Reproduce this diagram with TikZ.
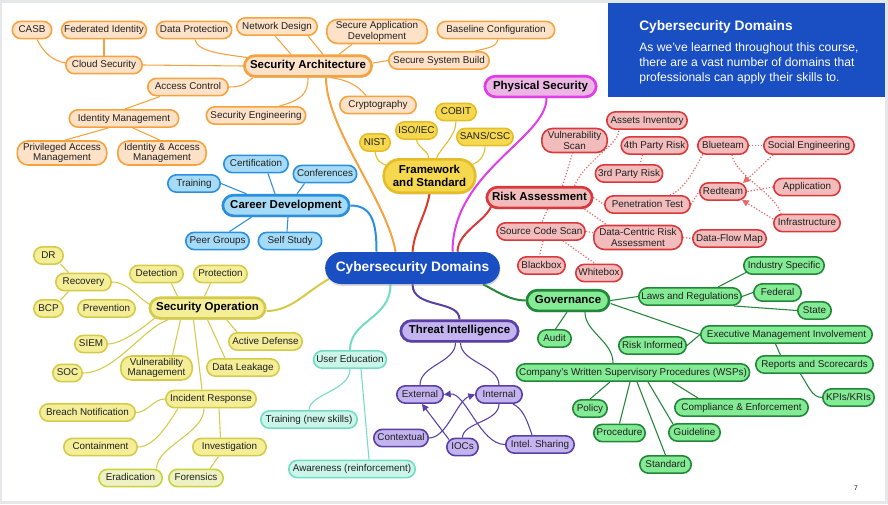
\documentclass[tikz,border=0pt]{standalone}
\usepackage{fontspec}
\setmainfont{Liberation Sans}
\usetikzlibrary{arrows.meta,calc,shadows}
\definecolor{orF}{HTML}{FDE2C8}\definecolor{orB}{HTML}{F6A23E}
\definecolor{fwF}{HTML}{F5D84E}\definecolor{fwB}{HTML}{E4BE28}
\definecolor{psF}{HTML}{EBB5E4}\definecolor{psB}{HTML}{E03DE6}
\definecolor{cdF}{HTML}{A5DBF7}\definecolor{cdB}{HTML}{2B8FE0}
\definecolor{soF}{HTML}{F4EE99}\definecolor{soB}{HTML}{D6CB48}
\definecolor{erF}{HTML}{EEF2C2}\definecolor{erB}{HTML}{C9D23A}
\definecolor{ueF}{HTML}{CCF5EA}\definecolor{ueB}{HTML}{72DCC5}
\definecolor{tiF}{HTML}{C3B3EE}\definecolor{tiB}{HTML}{5A3FA6}
\definecolor{raF}{HTML}{F2BCBC}\definecolor{raB}{HTML}{D9393B}
\definecolor{gvF}{HTML}{84EB95}\definecolor{gvB}{HTML}{23873A}
\definecolor{cdom}{HTML}{1A4FC4}
\definecolor{frameG}{HTML}{E6E7EA}
\definecolor{fwLink}{HTML}{D93A2A}
\definecolor{dotR}{HTML}{E86A6A}
\definecolor{txt}{HTML}{202020}
\pgfdeclarelayer{back}\pgfdeclarelayer{bg}\pgfsetlayers{back,bg,main}
\tikzset{
 nodebase/.style={rounded corners=6.5pt, minimum height=13pt, inner xsep=2pt, inner ysep=1pt, font=\fontsize{7.4}{7.8}\selectfont, text=txt, line width=1.2pt, text height=5.3pt, text depth=1.5pt},
 bw/.style={minimum width=#1*0.75pt-1.2pt},
 twoline/.style={minimum height=18pt, rounded corners=8pt, align=center, text height={}, text depth={}},
 mainbase/.style={rounded corners=8pt, minimum height=15.5pt, inner xsep=3pt, line width=2pt, font=\bfseries\fontsize{8.6}{9.8}\selectfont, text=black, text height=6.2pt, text depth=1.8pt, drop shadow={opacity=0.3,shadow xshift=0.4pt,shadow yshift=-1.2pt}},
 orn/.style={nodebase, draw=orB, fill=orF},
 orm/.style={mainbase, draw=orB, fill=orF},
 fwn/.style={nodebase, draw=fwB, fill=fwF},
 fwm/.style={mainbase, draw=fwB, fill=fwF, minimum height=25pt, rounded corners=12pt, align=center, text height={}, text depth={}},
 psm/.style={mainbase, draw=psB, fill=psF},
 cdn/.style={nodebase, draw=cdB, fill=cdF},
 cdm/.style={mainbase, draw=cdB, fill=cdF},
 son/.style={nodebase, draw=soB, fill=soF},
 som/.style={mainbase, draw=soB, fill=soF},
 ern/.style={nodebase, draw=erB, fill=erF},
 uen/.style={nodebase, draw=ueB, fill=ueF},
 tin/.style={nodebase, draw=tiB, fill=tiF},
 tim/.style={mainbase, draw=tiB, fill=tiF},
 ran/.style={nodebase, draw=raB, fill=raF},
 ram/.style={mainbase, draw=raB, fill=raF},
 gvn/.style={nodebase, draw=gvB, fill=gvF},
 gvm/.style={mainbase, draw=gvB, fill=gvF},
 cen/.style={rounded corners=12pt, minimum width=131pt, minimum height=24pt, fill=cdom, text=white, font=\bfseries\fontsize{10.3}{12}\selectfont, text height=7.4pt, text depth=2.1pt, drop shadow={opacity=0.3,shadow xshift=0.4pt,shadow yshift=-1.4pt}},
 lk/.style={line width=0.8pt},
 hub/.style={line width=1.5pt},
 dotl/.style={draw=dotR, line width=0.9pt, dash pattern=on 0.9pt off 1.4pt},
 arrowend/.style={-{Triangle[length=5pt,width=5pt]}},
 bodytxt/.style={anchor=base west, inner sep=0pt, text=white, font=\fontsize{9.1}{11}\selectfont}
}
\begin{document}
\begin{tikzpicture}[x=0.75pt,y=-0.75pt]
\useasboundingbox (0,0) rectangle (888,504);
\begin{pgfonlayer}{back}
\fill[frameG] (0,0) rectangle (888,504);
\fill[white] (2,3) rectangle (885,501);
\fill[cdom] (608,3) rectangle (885,97);
\end{pgfonlayer}

% title text
\node[anchor=base west, inner sep=0pt, text=white, font=\bfseries\fontsize{10.3}{12}\selectfont] (ttl) at (639,30) {Cybersecurity Domains};
\node[bodytxt] (tb1) at (639,51) {As we’ve learned throughout this course,};
\node[bodytxt] (tb2) at (639,66) {there are a vast number of domains that};
\node[bodytxt] (tb3) at (639,81) {professionals can apply their skills to.};
\node[font=\fontsize{5}{6}\selectfont, inner sep=0pt] (pnum) at (856,488) {7};

% center
\node[cen] (center) at (412.5,268) {Cybersecurity Domains};

% Security Architecture
\node[orm, bw=129] (sa) at (308,66) {Security Architecture};
\node[orn, bw=41] (casb) at (32,30) {CASB};
\node[orn, bw=86] (fedid) at (104,30) {Federated Identity};
\node[orn, bw=77] (dataprot) at (194,30) {Data Protection};
\node[orn, bw=82] (netdes) at (277,26.5) {Network Design};
\node[orn, twoline, bw=102] (secapp) at (377,31.5) {Secure Application\\Development};
\node[orn, bw=119] (baseline) at (496,30) {Baseline Configuration};
\node[orn, bw=78] (cloud) at (104,65) {Cloud Security};
\node[orn, bw=102] (ssb) at (439,60.5) {Secure System Build};
\node[orn, bw=82] (access) at (188,87) {Access Control};
\node[orn, bw=78] (crypto) at (378,105) {Cryptography};
\node[orn, bw=111] (idm) at (124,118.5) {Identity Management};
\node[orn, bw=101] (seceng) at (256,115.5) {Security Engineering};
\node[orn, twoline, bw=91] (pam) at (62,153) {Privileged Access\\Management};
\node[orn, twoline, bw=90] (iam) at (162,153) {Identity \& Access\\Management};

% Career Development
\node[cdm, bw=128] (career) at (286,205.5) {Career Development};
\node[cdn, bw=66] (cert) at (256,164) {Certification};
\node[cdn, bw=65] (conf) at (325,174) {Conferences};
\node[cdn, bw=54] (train) at (194,183.5) {Training};
\node[cdn, bw=65] (peer) at (217.5,241) {Peer Groups};
\node[cdn, bw=65] (self) at (290,241) {Self Study};

% Framework
\node[fwm, bw=93] (fw) at (429.5,176) {Framework\\and Standard};
\node[fwn, bw=32] (nist) at (375,142.5) {NIST};
\node[fwn, bw=41] (iso) at (416.5,130.5) {ISO/IEC};
\node[fwn, bw=42] (cobit) at (456,112) {COBIT};
\node[fwn, bw=58] (sans) at (485,137) {SANS/CSC};

% Physical Security
\node[psm, bw=113] (ps) at (540.5,86.5) {Physical Security};

% Security Operation
\node[som, bw=117] (so) at (207.5,308) {Security Operation};
\node[son, bw=31] (dr) at (48.5,255.5) {DR};
\node[son, bw=57] (recovery) at (83.5,282) {Recovery};
\node[son, bw=31] (bcp) at (48.5,308.5) {BCP};
\node[son, bw=59] (prevention) at (106.5,308.5) {Prevention};
\node[son, bw=55] (detection) at (156.5,274) {Detection};
\node[son, bw=55] (protection) at (220.5,274) {Protection};
\node[son, bw=34] (siem) at (91,344) {SIEM};
\node[son, bw=31] (soc) at (67.5,373) {SOC};
\node[son, twoline, bw=73] (vm) at (156.5,368) {Vulnerability\\Management};
\node[son, bw=75] (ad) at (265.5,341.5) {Active Defense};
\node[son, bw=74] (dl) at (243,367.5) {Data Leakage};
\node[son, bw=92] (ir) at (211,399) {Incident Response};
\node[son, bw=97] (breach) at (87.5,412.5) {Breach Notification};
\node[son, bw=75] (contain) at (100.5,447) {Containment};
\node[son, bw=75] (invest) at (229.5,447) {Investigation};
\node[ern, bw=65] (erad) at (130.5,478) {Eradication};
\node[ern, bw=56] (foren) at (196,478) {Forensics};

% User Education
\node[uen, bw=74] (ue) at (350,359.5) {User Education};
\node[uen, bw=98] (tns) at (309,419.5) {Training (new skills)};
\node[uen, bw=128] (awr) at (352,469) {Awareness (reinforcement)};

% Threat Intelligence
\node[tim, bw=119] (ti) at (459.5,331) {Threat Intelligence};
\node[tin, bw=48] (ext) at (420,394.5) {External};
\node[tin, bw=48] (int) at (499,394.5) {Internal};
\node[tin, bw=56] (ctx) at (401,438) {Contextual};
\node[tin, bw=33] (iocs) at (462.5,447) {IOCs};
\node[tin, bw=70] (intel) at (540,444.5) {Intel.\ Sharing};

% Risk Assessment
\node[ram, bw=107] (ra) at (539.5,197.5) {Risk Assessment};
\node[ran, twoline, bw=67] (vs) at (574.5,140.5) {Vulnerability\\Scan};
\node[ran, bw=82] (ai) at (647,120.5) {Assets Inventory};
\node[ran, bw=67] (p4) at (654.5,145.5) {4th Party Risk};
\node[ran, bw=68] (p3) at (629,173.5) {3rd Party Risk};
\node[ran, bw=87] (pt) at (647.5,204.5) {Penetration Test};
\node[ran, bw=86] (scs) at (541,231.5) {Source Code Scan};
\node[ran, twoline, bw=90] (dcra) at (638,237.5) {Data-Centric Risk\\Assessment};
\node[ran, bw=75] (dfm) at (729.5,238.5) {Data-Flow Map};
\node[ran, bw=49] (bb) at (541.5,265.5) {Blackbox};
\node[ran, bw=48] (wb) at (599,273) {Whitebox};
\node[ran, bw=52] (blue) at (723,145.5) {Blueteam};
\node[ran, bw=92] (se) at (809,145.5) {Social Engineering};
\node[ran, bw=48] (rt) at (723,191.5) {Redteam};
\node[ran, bw=68] (app) at (807,187) {Application};
\node[ran, bw=68] (infra) at (807,223) {Infrastructure};

% Governance
\node[gvm, bw=84] (gov) at (568,300.5) {Governance};
\node[gvn, bw=102] (laws) at (690,296.5) {Laws and Regulations};
\node[gvn, bw=82] (ind) at (784,265.5) {Industry Specific};
\node[gvn, bw=49] (fed) at (777.5,292.5) {Federal};
\node[gvn, bw=35] (state) at (814.5,310.5) {State};
\node[gvn, bw=35] (audit) at (554.5,338.5) {Audit};
\node[gvn, bw=173] (emi) at (786.5,334.5) {Executive Management Involvement};
\node[gvn, bw=69] (ri) at (652.5,345.5) {Risk Informed};
\node[gvn, bw=119] (rs) at (814.5,364.5) {Reports and Scorecards};
\node[gvn, bw=53] (kpi) at (848.5,397.5) {KPIs/KRIs};
\node[gvn, bw=232] (wsp) at (633,372.5) {Company’s Written Supervisory Procedures (WSPs)};
\node[gvn, bw=36] (policy) at (590,408.5) {Policy};
\node[gvn, bw=53] (proc) at (619.5,433) {Procedure};
\node[gvn, bw=135] (ce) at (741.5,407.5) {Compliance \& Enforcement};
\node[gvn, bw=53] (guide) at (694.5,432.5) {Guideline};
\node[gvn, bw=53] (std) at (665.5,464.5) {Standard};

\begin{pgfonlayer}{bg}
% orange
\draw[lk,orB] ($(casb.south)+(5,0)$) .. controls +(6,12) and +(-14,-2) .. ($(cloud.west)+(1,-2)$);
\draw[lk,orB] (fedid.south) -- (cloud.north);
\draw[lk,orB] (cloud.east) -- (sa.west);
\draw[lk,orB] ($(dataprot.south)+(1,0)$) .. controls +(2,12) and +(-30,-4) .. ($(sa.west)+(8,-8)$);
\draw[lk,orB] ($(netdes.south)+(-2,0)$) -- ($(sa.north)+(-17,0)$);
\draw[lk,orB] ($(netdes.south east)+(-10,0)$) -- ($(sa.north)+(15,0)$);
\draw[lk,orB] ($(secapp.south west)+(26,0)$) -- ($(sa.north east)+(-34,0)$);
\draw[lk,orB] (ssb.west) -- ($(sa.east)+(0,-3)$);
\draw[lk,orB] ($(baseline.south)+(2,0)$) .. controls +(-2,8) and +(12,-3) .. ($(ssb.north east)+(-15,0)$);
\draw[lk,orB] (access.east) .. controls +(14,0) and +(-8,6) .. ($(sa.south west)+(10,0)$);
\draw[lk,orB] ($(seceng.north east)+(-27,0)$) .. controls +(22,-6) and +(0,16) .. (sa.south);
\draw[lk,orB] ($(crypto.north)+(-12,0)$) .. controls +(-10,-12) and +(14,2) .. ($(sa.south east)+(-42,0)$);
\draw[lk,orB] ($(access.south west)+(13,0)$) -- ($(idm.north)+(1,0)$);
\draw[lk,orB] ($(idm.south)+(-16,0)$) -- ($(pam.north)+(3,0)$);
\draw[lk,orB] ($(idm.south)+(9,0)$) -- ($(iam.north)+(-2,0)$);
\draw[hub,orB] ($(sa.south)+(18,0)$) .. controls +(0,50) and +(-8,-50) .. ($(center.north)+(-17,0)$);
% blue
\draw[lk,cdB] ($(cert.south)+(12,0)$) -- ($(career.north)+(-11,0)$);
\draw[lk,cdB] ($(conf.south west)+(12,0)$) -- ($(career.north)+(11,0)$);
\draw[lk,cdB] (train.east) -- ($(career.north west)+(25,0)$);
\draw[lk,cdB] ($(peer.north)+(12,0)$) -- ($(career.south west)+(30,0)$);
\draw[lk,cdB] ($(self.north)+(-3,0)$) -- ($(career.south)+(2,0)$);
\draw[hub,cdB] (career.east) .. controls +(22,0) and +(0,-28) .. ($(center.north)+(-36,0)$);
% framework
\draw[lk,fwB] (nist.south) .. controls +(2,9) and +(-9,-3) .. ($(fw.west)+(6,-10)$);
\draw[lk,fwB] (iso.south) .. controls +(2,9) and +(0,-8) .. ($(fw.north)+(-1,0)$);
\draw[lk,fwB] (cobit.south) .. controls +(0,15) and +(4,-10) .. ($(fw.north)+(7,0)$);
\draw[lk,fwB] (sans.south) .. controls +(0,10) and +(10,-3) .. ($(fw.east)+(-8,-10)$);
\draw[hub,fwLink] (fw.south) .. controls +(-4,22) and +(2,-22) .. (center.north);
% physical security
\draw[hub,psB] ($(ps.south)+(6,0)$) .. controls +(0,40) and +(0,-80) .. ($(center.north)+(40,0)$);
% risk assessment
\draw[hub,raB] ($(ra.south west)+(6,-4)$) .. controls +(-4,15) and +(0,-20) .. ($(center.north)+(45,0)$);
\draw[dotl] ($(ra.north)+(23,0)$) -- ($(vs.south)+(-2,0)$);
\draw[dotl] ($(ra.north)+(35,0)$) .. controls +(10,-25) and +(0,15) .. ($(ai.south west)+(13,0)$);
\draw[dotl] ($(p4.south)+(-12,0)$) -- ($(p3.north)+(11,0)$);
\draw[dotl] (ra.east) -- (pt.west);
\draw[dotl] ($(ra.south east)+(-9,0)$) -- ($(dcra.north west)+(14,0)$);
\draw[dotl] ($(ra.south)+(8,0)$) -- ($(scs.north)+(1,0)$);
\draw[dotl] (scs.east) -- ($(dcra.west)+(0,-5)$);
\draw[dotl] ($(scs.south)+(2,0)$) -- ($(bb.north)+(-2,0)$);
\draw[dotl] ($(scs.south)+(22,0)$) -- ($(wb.north)+(-4,0)$);
\draw[dotl] (dcra.east) -- (dfm.west);
\draw[dotl] ($(pt.north east)+(-21,0)$) .. controls +(16,-6) and +(-6,10) .. ($(blue.south west)+(6,-1)$);
\draw[dotl] (pt.east) -- (rt.west);
\draw[dotl] (blue.east) -- (se.west);
\draw[dotl,arrowend] ($(se.south west)+(10,0)$) -- ($(rt.north east)+(-4,1)$);
\draw[dotl] ($(blue.south)+(9,0)$) .. controls +(3,20) and +(-6,-20) .. ($(infra.north west)+(8,0)$);
\draw[dotl] (app.west) -- (rt.east);
\draw[dotl,arrowend] ($(infra.west)+(0,-4)$) -- ($(rt.south east)+(-5,-1)$);
% governance
\draw[hub,gvB] ($(center.south east)+(-17,0)$) .. controls +(15,8) and +(-15,0) .. (gov.west);
\draw[lk,gvB] (gov.east) -- (laws.west);
\draw[lk,gvB] ($(laws.north)+(28,0)$) -- ($(ind.south west)+(4,-3)$);
\draw[lk,gvB] (laws.east) -- (fed.west);
\draw[lk,gvB] ($(laws.south east)+(-8,0)$) -- (state.west);
\draw[lk,gvB] ($(gov.south)+(-1,0)$) -- ($(audit.north)+(1,0)$);
\draw[lk,gvB] ($(gov.east)+(0,3)$) -- (emi.west);
\draw[lk,gvB] (emi.west) -- (ri.east);
\draw[lk,gvB] ($(emi.south)+(-11,0)$) -- ($(rs.north)+(-34,0)$);
\draw[lk,gvB] ($(rs.south)+(-14,0)$) .. controls +(8,12) and +(-10,0) .. (kpi.west);
\draw[lk,gvB] ($(gov.south)+(17,0)$) .. controls +(0,20) and +(0,-22) .. ($(wsp.north)+(-20,0)$);
\draw[lk,gvB] ($(wsp.south)+(-23,0)$) -- (policy.north);
\draw[lk,gvB] ($(wsp.south)+(-3,0)$) -- (proc.north);
\draw[lk,gvB] ($(wsp.south)+(4,0)$) -- (std.north);
\draw[lk,gvB] ($(wsp.south)+(15,0)$) -- ($(guide.north west)+(5,1)$);
\draw[lk,gvB] ($(wsp.south)+(39,0)$) -- ($(ce.north west)+(24,0)$);
% user education
\draw[hub,ueB] ($(center.south)+(-22,0)$) .. controls +(0,35) and +(0,-30) .. (ue.north);
\draw[lk,ueB] (ue.south) .. controls +(0,22) and +(0,-16) .. (tns.north);
\draw[lk,ueB] ($(ue.south)+(11,0)$) -- ($(awr.north)+(17,0)$);
% threat intelligence
\draw[hub,tiB] (center.south) .. controls +(0,25) and +(0,-20) .. (ti.north);
\draw[lk,tiB] ($(ti.south)+(-4,0)$) .. controls +(0,20) and +(0,-20) .. (ext.north);
\draw[lk,tiB] ($(ti.south)+(1,0)$) .. controls +(0,20) and +(0,-20) .. (int.north);
\draw[lk,tiB,arrowend] (ctx.east) .. controls +(18,0) and +(-18,6) .. (int.west);
\draw[lk,tiB,arrowend] ($(iocs.north west)+(3,2)$) -- ($(ext.south)+(2,0)$);
\draw[lk,tiB,arrowend] (intel.west) .. controls +(-25,0) and +(22,-2) .. (ext.east);
\draw[lk,tiB] (int.south) .. controls +(0,18) and +(0,-15) .. (iocs.north);
\draw[lk,tiB] ($(int.south east)+(-10,0)$) .. controls +(10,5) and +(-5,-15) .. ($(intel.north)+(-8,0)$);
% security operation
\draw[lk,soB] ($(dr.south)+(12,-1)$) -- ($(recovery.north)+(-15,0)$);
\draw[lk,soB] ($(bcp.north)+(12,1)$) -- ($(recovery.south)+(-15,0)$);
\draw[lk,soB] (recovery.east) .. controls +(16,0) and +(-14,-8) .. ($(so.west)+(2,-3)$);
\draw[lk,soB] ($(detection.south)+(15,0)$) -- ($(so.north)+(-30,0)$);
\draw[lk,soB] ($(protection.south)+(-10,0)$) -- ($(so.north)+(-3,0)$);
\draw[lk,soB] (siem.east) .. controls +(14,0) and +(-12,10) .. ($(so.south west)+(8,-3)$);
\draw[lk,soB] (soc.east) .. controls +(32,0) and +(-25,8) .. ($(so.south west)+(20,0)$);
\draw[lk,soB] ($(vm.north)+(16,0)$) -- ($(so.south)+(-27,0)$);
\draw[lk,soB] ($(ir.north)+(-9,0)$) -- ($(so.south)+(-14,0)$);
\draw[lk,soB] ($(dl.north west)+(19,0)$) -- (so.south);
\draw[lk,soB] ($(ad.north west)+(9,0)$) -- ($(so.south)+(19,0)$);
\draw[lk,soB] (breach.east) .. controls +(12,0) and +(-12,0) .. (ir.west);
\draw[lk,soB] (contain.east) .. controls +(16,0) and +(-10,16) .. ($(ir.south west)+(13,0)$);
\draw[lk,soB] ($(erad.north)+(26,0)$) .. controls +(0,-22) and +(0,25) .. ($(ir.south)+(-7,0)$);
\draw[lk,soB] ($(ir.south)+(8,0)$) -- ($(invest.north)+(-9,0)$);
\draw[lk,soB] ($(foren.north)+(14,0)$) -- ($(invest.south)+(-11,0)$);
\draw[hub,soB] ($(so.east)+(0,3)$) .. controls +(25,0) and +(-22,12) .. ($(center.west)+(4,11)$);
\end{pgfonlayer}
\end{tikzpicture}
\end{document}
